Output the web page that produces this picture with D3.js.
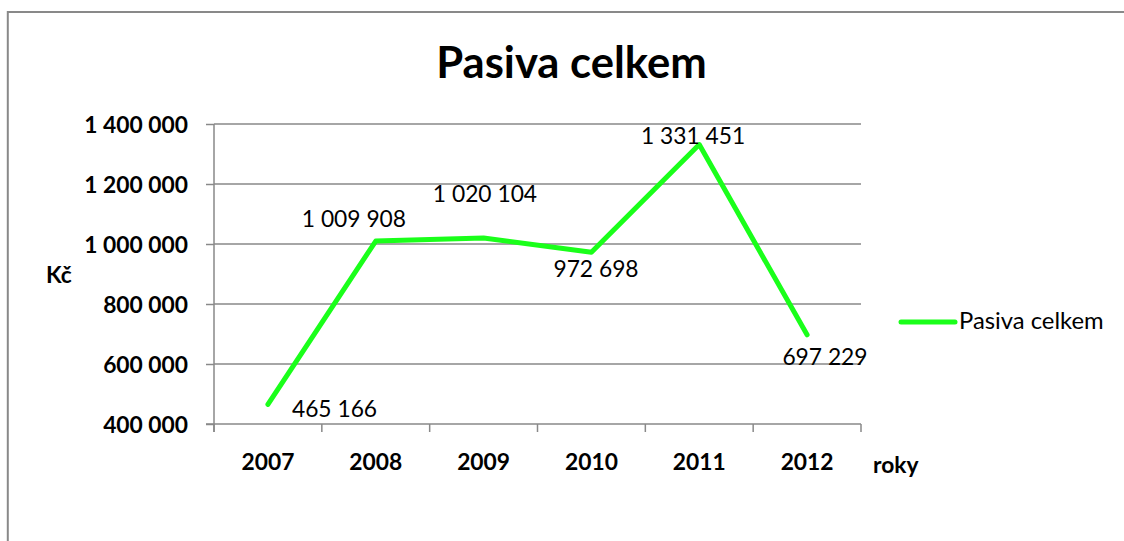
<!DOCTYPE html>
<html>
<head>
<meta charset="utf-8">
<script src="https://cdn.jsdelivr.net/npm/d3@7/dist/d3.min.js"></script>
<style>
  html, body { margin: 0; padding: 0; background: #fff; }
  svg { display: block; }
  text { font-family: Lato, "Open Sans", sans-serif; fill: #000; }
</style>
</head>
<body>
<svg id="chart" width="1124" height="541"></svg>
<script>
// ---- data ----
const categories = ["2007", "2008", "2009", "2010", "2011", "2012"];
const values = [465166, 1009908, 1020104, 972698, 1331451, 697229];
const seriesName = "Pasiva celkem";
const yTicks = [400000, 600000, 800000, 1000000, 1200000, 1400000];
const chartTitle = "Pasiva celkem";
const yAxisTitle = "Kč";
const xAxisTitle = "roky";

// ---- layout ----
const W = 1124, H = 541;
const plot = { left: 214, right: 861, top: 124, bottom: 424 };
// manual label nudges (dx of label centre, dy of baseline relative to point)
const labelNudge = [[66.6, 12.5], [-21.8, -14], [1.4, -36], [4.6, 24.8], [-6.2, -0.6], [17.9, 30.2]];
const green = "#1aff1a";
const grey = "#898989";
const fs = 22.8; // Lato size approximating Calibri 26px

const fmt = v => d3.format(",")(v).replace(/,/g, " ");

const svg = d3.select("#chart");

// frame (only left and top edges visible)
svg.append("line").attr("x1", 7).attr("x2", W).attr("y1", 12).attr("y2", 12)
  .attr("stroke", grey).attr("stroke-width", 2);
svg.append("line").attr("x1", 7.8).attr("x2", 7.8).attr("y1", 11).attr("y2", H)
  .attr("stroke", grey).attr("stroke-width", 2);

const x = d3.scaleBand().domain(categories).range([plot.left, plot.right]).padding(0);
const y = d3.scaleLinear().domain([400000, 1400000]).range([plot.bottom, plot.top]);

// gridlines
svg.append("g").selectAll("line").data(yTicks.slice(1)).join("line")
  .attr("x1", plot.left).attr("x2", plot.right)
  .attr("y1", d => y(d)).attr("y2", d => y(d))
  .attr("stroke", grey).attr("stroke-width", 1.5);

// y axis
const yAxis = d3.axisLeft(y).tickValues(yTicks).tickSize(8).tickPadding(18).tickFormat(fmt);
const gy = svg.append("g").attr("transform", `translate(${plot.left},0)`).call(yAxis);
gy.select(".domain").attr("stroke", grey).attr("stroke-width", 1.5).attr("d", `M0,${plot.top}V${plot.bottom + 8}`);
gy.selectAll(".tick line").attr("stroke", grey).attr("stroke-width", 1.5);
gy.selectAll(".tick text").attr("font-family", "Lato").attr("font-weight", "bold")
  .attr("font-size", fs).attr("fill", "#000").attr("dy", "0.36em");

// x axis with ticks at band boundaries
const gx = svg.append("g").attr("transform", `translate(0,${plot.bottom})`);
gx.append("line").attr("x1", plot.left - 8).attr("x2", plot.right)
  .attr("y1", 0).attr("y2", 0).attr("stroke", grey).attr("stroke-width", 1.5);
const bounds = categories.map(c => x(c)).concat([x(categories[categories.length - 1]) + x.bandwidth()]);
gx.selectAll("line.tk").data(bounds).join("line").attr("class", "tk")
  .attr("x1", d => d).attr("x2", d => d).attr("y1", 0).attr("y2", 8)
  .attr("stroke", grey).attr("stroke-width", 1.5);
gx.selectAll("text").data(categories).join("text")
  .attr("x", d => x(d) + x.bandwidth() / 2).attr("y", 46)
  .attr("text-anchor", "middle").attr("font-weight", "bold").attr("font-size", fs)
  .text(d => d);

// axis titles
svg.append("text").attr("x", 46).attr("y", 283).attr("font-weight", "bold")
  .attr("font-size", fs).text(yAxisTitle);
svg.append("text").attr("x", 873).attr("y", 473).attr("font-weight", "bold")
  .attr("font-size", fs).text(xAxisTitle);

// title
svg.append("text").attr("x", 571.5).attr("y", 78).attr("text-anchor", "middle")
  .attr("font-weight", "bold").attr("font-size", 43.6).text(chartTitle);

// series line
const pts = categories.map((c, i) => ({ c, v: values[i], i }));
const line = d3.line().x(d => x(d.c) + x.bandwidth() / 2).y(d => y(d.v));
svg.append("path").datum(pts).attr("d", line)
  .attr("fill", "none").attr("stroke", green).attr("stroke-width", 5)
  .attr("stroke-linejoin", "round").attr("stroke-linecap", "round");

// data labels
svg.append("g").selectAll("text").data(pts).join("text")
  .attr("x", d => x(d.c) + x.bandwidth() / 2 + labelNudge[d.i][0])
  .attr("y", d => y(d.v) + labelNudge[d.i][1])
  .attr("text-anchor", "middle").attr("font-size", fs)
  .text(d => fmt(d.v));

// legend
svg.append("line").attr("x1", 901).attr("x2", 955).attr("y1", 322).attr("y2", 322)
  .attr("stroke", green).attr("stroke-width", 5).attr("stroke-linecap", "round");
svg.append("text").attr("x", 959).attr("y", 329).attr("font-size", 23.8).text(seriesName);
</script>
</body>
</html>
